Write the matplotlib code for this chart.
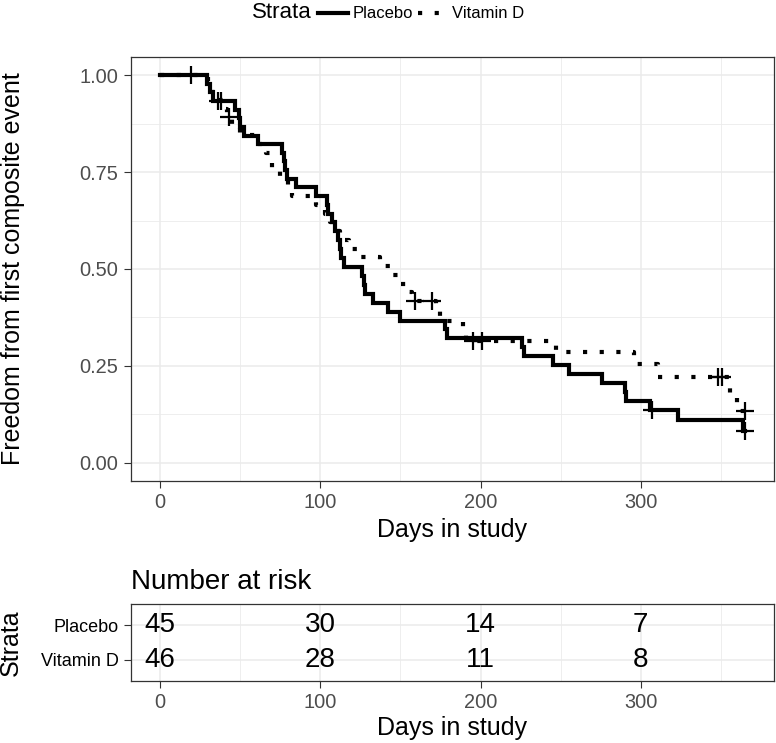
import matplotlib
matplotlib.use("Agg")
import matplotlib.pyplot as plt
from matplotlib.lines import Line2D

plt.rcParams['font.family'] = ['Liberation Sans', 'DejaVu Sans']

# ---------------- data ----------------
placebo_times = [0, 29, 31, 33, 47, 49, 50, 52, 61, 76, 77, 78, 79, 85, 97, 104, 105, 107, 109, 111,
                 112, 113, 115, 126, 127, 128, 133, 142, 150, 178, 179, 226, 227, 245, 255, 276,
                 290, 291, 306, 323, 364, 365]
placebo_surv = [1.0, 0.978, 0.956, 0.933, 0.911, 0.889, 0.867, 0.844, 0.822, 0.800, 0.778, 0.756,
                0.733, 0.711, 0.689, 0.666, 0.643, 0.620, 0.597, 0.574, 0.551, 0.528, 0.505, 0.482,
                0.459, 0.436, 0.413, 0.390, 0.367, 0.344, 0.321, 0.298, 0.275, 0.252, 0.229, 0.206,
                0.183, 0.160, 0.137, 0.110, 0.082, 0.082]
placebo_cens_t = [36, 38, 307, 365]
placebo_cens_s = [0.933, 0.933, 0.137, 0.082]

vitd_times = [0, 30, 32, 34, 41, 42, 45, 50, 60, 66, 69, 70, 75, 80, 82, 97, 103, 106, 110, 112,
              118, 123, 137, 144, 149, 154, 157, 172, 175, 189, 191, 247, 296, 311, 356, 360, 365]
vitd_surv = [1.0, 0.978, 0.957, 0.935, 0.913, 0.891, 0.868, 0.846, 0.823, 0.800, 0.778, 0.755,
             0.733, 0.710, 0.688, 0.665, 0.643, 0.620, 0.598, 0.575, 0.552, 0.530, 0.507, 0.485,
             0.462, 0.440, 0.417, 0.391, 0.365, 0.339, 0.313, 0.285, 0.254, 0.222, 0.178, 0.133,
             0.133]
vitd_cens_t = [19, 43, 159, 170, 195, 201, 348, 351, 365]
vitd_cens_s = [1.0, 0.891, 0.417, 0.417, 0.313, 0.313, 0.222, 0.222, 0.133]

risk_times = [0, 100, 200, 300]
risk_placebo = [45, 30, 14, 7]
risk_vitd = [46, 28, 11, 8]
strata = ["Placebo", "Vitamin D"]

x_ticks = [0, 100, 200, 300]
x_minor = [50, 150, 250, 350]
y_ticks = [0.0, 0.25, 0.50, 0.75, 1.00]
y_labels = ["0.00", "0.25", "0.50", "0.75", "1.00"]
y_minor = [0.125, 0.375, 0.625, 0.875]

# ---------------- figure ----------------
W, H = 776, 743
fig = plt.figure(figsize=(W / 100, H / 100), dpi=100)

def fx(px):
    return px / W

def fy(py):
    return 1 - py / H

BORDER = '#333333'
GRID = '#EBEBEB'
TICKLAB = '#4D4D4D'
LW = 3.0
DOTS = (0, (1, 3))

ax = fig.add_axes([fx(131), fy(481), fx(774) - fx(131), fy(57) - fy(481)])
ax.set_xlim(-18.25, 383.25)
ax.set_ylim(-0.047, 1.047)

ax.set_xticks(x_ticks)
ax.set_xticks(x_minor, minor=True)
ax.set_yticks(y_ticks)
ax.set_yticklabels(y_labels)
ax.set_yticks(y_minor, minor=True)
ax.grid(True, which='major', color=GRID, lw=1.1)
ax.grid(True, which='minor', color=GRID, lw=0.6)
ax.set_axisbelow(True)
ax.tick_params(which='major', length=5, width=0.8, color=BORDER, labelsize=14.4,
               labelcolor=TICKLAB, pad=4)
ax.tick_params(which='minor', length=0)
for s in ax.spines.values():
    s.set_color(BORDER)
    s.set_linewidth(0.9)

ax.step(placebo_times, placebo_surv, where='post', color='black', lw=LW, solid_joinstyle='miter')
ax.step(vitd_times, vitd_surv, where='post', color='black', lw=LW, linestyle=DOTS,
        dash_capstyle='butt')
ax.plot(placebo_cens_t, placebo_cens_s, linestyle='none', marker='+', color='black',
        markersize=13, markeredgewidth=1.6)
ax.plot(vitd_cens_t, vitd_cens_s, linestyle='none', marker='+', color='black',
        markersize=13, markeredgewidth=1.6)

fig.text(fx(452), fy(530), "Days in study", ha='center', va='center', fontsize=18)
fig.text(fx(13), fy(269), "Freedom from first composite event", ha='center', va='center',
         rotation=90, fontsize=18)

# legend (manual, horizontal at top)
ly = fy(13)
fig.text(fx(252), ly, "Strata", ha='left', va='center', fontsize=16)
fig.add_artist(Line2D([fx(318), fx(348)], [ly, ly], color='black', lw=LW,
                      transform=fig.transFigure))
fig.text(fx(353), ly, strata[0], ha='left', va='center', fontsize=12)
fig.add_artist(Line2D([fx(418), fx(444)], [ly, ly], color='black', lw=LW, linestyle=DOTS,
                      dash_capstyle='butt', transform=fig.transFigure))
fig.text(fx(452), ly, strata[1], ha='left', va='center', fontsize=12)

# ---------------- risk table ----------------
ax2 = fig.add_axes([fx(131), fy(681), fx(774) - fx(131), fy(604) - fy(681)])
ax2.set_xlim(-18.25, 383.25)
ax2.set_ylim(0.4, 2.6)
ax2.set_xticks(x_ticks)
ax2.set_xticks(x_minor, minor=True)
ax2.set_yticks([2, 1])
ax2.set_yticklabels(strata)
ax2.grid(True, which='major', color=GRID, lw=1.1)
ax2.grid(True, which='minor', axis='x', color=GRID, lw=0.6)
ax2.set_axisbelow(True)
ax2.tick_params(which='major', length=5, width=0.8, color=BORDER, labelsize=14.4,
                labelcolor=TICKLAB, pad=4)
ax2.tick_params(axis='y', labelcolor='black', labelsize=13)
ax2.tick_params(which='minor', length=0)
for s in ax2.spines.values():
    s.set_color(BORDER)
    s.set_linewidth(0.9)

for t, n in zip(risk_times, risk_placebo):
    ax2.text(t, 2, str(n), ha='center', va='center', fontsize=20)
for t, n in zip(risk_times, risk_vitd):
    ax2.text(t, 1, str(n), ha='center', va='center', fontsize=20)

fig.text(fx(131), fy(582), "Number at risk", ha='left', va='center', fontsize=20)
fig.text(fx(452), fy(728), "Days in study", ha='center', va='center', fontsize=18)
fig.text(fx(11), fy(643), "Strata", ha='center', va='center', rotation=90, fontsize=18)

fig.savefig("out.png", dpi=100)
